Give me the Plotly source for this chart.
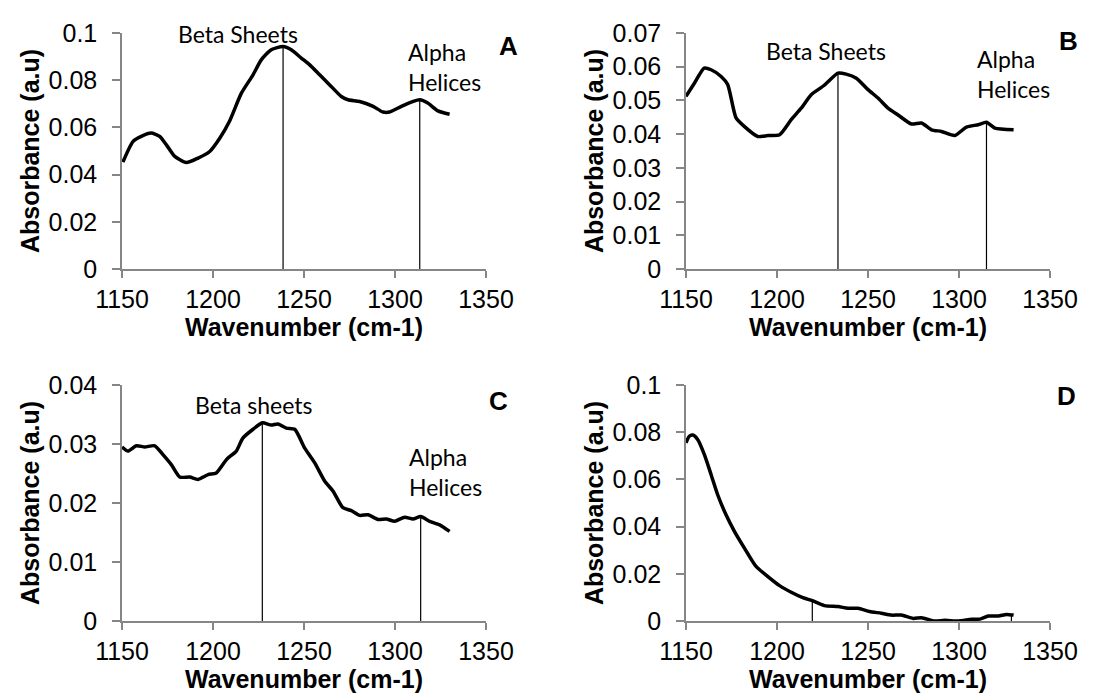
import plotly.graph_objects as go

# ---------------- data ----------------
wn_A = [1150.5, 1156, 1160.6, 1166, 1170.7, 1174.4, 1179, 1185.3, 1191.8, 1198.2, 1203.7, 1209, 1215.6,
        1222, 1226.6, 1232, 1238.5, 1243, 1248.5, 1253, 1258.6, 1264, 1270.5, 1274.2, 1280.6, 1288,
        1293.4, 1297, 1303.5, 1310, 1313.6, 1318, 1323.6, 1330]
abs_A = [0.0453, 0.054, 0.0562, 0.0576, 0.0562, 0.0526, 0.0477, 0.0451, 0.047, 0.0498, 0.0554, 0.0625,
         0.0745, 0.0823, 0.0887, 0.0929, 0.0943, 0.0929, 0.0894, 0.0866, 0.0823, 0.0781, 0.0731, 0.0717,
         0.071, 0.0689, 0.0665, 0.0665, 0.0689, 0.071, 0.0717, 0.0703, 0.067, 0.0656]

wn_B = [1150, 1154.6, 1160, 1163.8, 1169.3, 1172.9, 1177.5, 1182, 1189.4, 1195, 1201.4, 1207.8, 1213.3,
        1218.8, 1226, 1233.5, 1238, 1243.6, 1250, 1255.5, 1261, 1266.5, 1273.9, 1279.4, 1284.9, 1290.4,
        1297.7, 1304.1, 1310.6, 1315.1, 1319.7, 1330]
abs_B = [0.0512, 0.0551, 0.0596, 0.0591, 0.0571, 0.0547, 0.0448, 0.0423, 0.0393, 0.0396, 0.0398, 0.0443,
         0.0477, 0.0517, 0.0545, 0.0581, 0.0578, 0.0566, 0.0532, 0.0507, 0.0477, 0.0457, 0.043, 0.0433,
         0.0413, 0.0408, 0.0396, 0.0421, 0.0428, 0.0435, 0.0418, 0.0413]

wn_C = [1150, 1153.3, 1157.9, 1162.5, 1168, 1172.5, 1177.1, 1181.7, 1187.2, 1191.8, 1197.3, 1201.8,
        1207.5, 1212.8, 1216.4, 1222, 1227.1, 1232, 1235.7, 1240.3, 1244.9, 1250.4, 1255.9, 1261.4, 1266,
        1271.4, 1276, 1280.6, 1285.2, 1290.7, 1295.2, 1299.8, 1305.3, 1309.9, 1314.1, 1319, 1324.5, 1330]
abs_C = [0.0295, 0.0288, 0.0297, 0.0295, 0.0297, 0.0282, 0.0265, 0.0244, 0.0244, 0.024, 0.0248, 0.0251,
         0.0274, 0.0288, 0.031, 0.0325, 0.0336, 0.0332, 0.0334, 0.0327, 0.0325, 0.0293, 0.0268, 0.0237,
         0.022, 0.0192, 0.0187, 0.0179, 0.018, 0.0172, 0.0173, 0.0169, 0.0176, 0.0173, 0.0177, 0.0169,
         0.0163, 0.0152]

wn_D = [1150, 1151.8, 1153.7, 1156.4, 1160.1, 1163.8, 1167.4, 1172, 1176.6, 1182.1, 1188.5, 1195,
        1201.4, 1207.8, 1214.2, 1219.4, 1226.1, 1233.5, 1239, 1244.5, 1250.9, 1257.3, 1262.8, 1268.3,
        1274.8, 1279.4, 1286.7, 1292.2, 1299.5, 1306.9, 1311.5, 1316.1, 1321.6, 1326.1, 1330]
abs_D = [0.0755, 0.0783, 0.0788, 0.0769, 0.0705, 0.062, 0.0535, 0.045, 0.038, 0.0309, 0.0231, 0.0188,
         0.015, 0.0122, 0.0099, 0.0086, 0.0065, 0.0061, 0.0054, 0.0054, 0.004, 0.0033, 0.0025, 0.0025,
         0.0011, 0.0014, 0.0, 0.0003, 0.0, 0.0007, 0.0008, 0.0021, 0.0021, 0.0028, 0.0025]

# marker lines: position (cm-1) and height (a.u.)
mark_A_x = [1238.5, 1313.6]
mark_A_y = [0.0943, 0.0717]
mark_B_x = [1233.5, 1315.1]
mark_B_y = [0.0581, 0.0435]
mark_C_x = [1227.1, 1314.1]
mark_C_y = [0.0336, 0.0177]
mark_D_x = [1219.4, 1328.8]
mark_D_y = [0.0088, 0.0025]

y_max = {"A": 0.1, "B": 0.07, "C": 0.04, "D": 0.1}
y_dtick = {"A": 0.02, "B": 0.01, "C": 0.01, "D": 0.02}
x_title = "Wavenumber (cm-1)"
y_title = "Absorbance (a.u)"
beta_labels = {"A": "Beta Sheets", "B": "Beta Sheets", "C": "Beta sheets"}
alpha_label = "Alpha<br>Helices"

# ---------------- layout helpers ----------------
W, H = 1100, 693
def px(x):
    return x / W
def py(y):
    return 1 - y / H

panels = {
    "A": dict(xd=[114, 478], yd=[25, 261], ax="", data=(wn_A, abs_A), marks=(mark_A_x, mark_A_y)),
    "B": dict(xd=[678, 1042], yd=[25, 261], ax="2", data=(wn_B, abs_B), marks=(mark_B_x, mark_B_y)),
    "C": dict(xd=[114, 478], yd=[377, 613], ax="3", data=(wn_C, abs_C), marks=(mark_C_x, mark_C_y)),
    "D": dict(xd=[678, 1042], yd=[377, 613], ax="4", data=(wn_D, abs_D), marks=(mark_D_x, mark_D_y)),
}

GREY = "#868686"
TICKFONT = dict(family="Arial", size=25, color="black")
TITLEFONT = dict(family="Arial", size=25, color="black")
ANNFONT = dict(family="Lato", size=23, color="black")

fig = go.Figure()
layout = dict(width=W, height=H, margin=dict(l=0, r=0, t=0, b=0),
              paper_bgcolor="white", plot_bgcolor="white", showlegend=False,
              font=dict(family="Arial"))

for key, p in panels.items():
    ax = p["ax"]
    xa, ya = "x" + ax, "y" + ax
    mx, my = p["marks"]
    for xv, yv in zip(mx, my):
        fig.add_trace(go.Scatter(x=[xv, xv], y=[0, yv], mode="lines",
                                 line=dict(color="black", width=1.2),
                                 xaxis=xa, yaxis=ya, hoverinfo="skip"))
    wn, ab = p["data"]
    fig.add_trace(go.Scatter(x=wn, y=ab, mode="lines",
                             line=dict(color="black", width=3.5, shape="spline", smoothing=0.6),
                             xaxis=xa, yaxis=ya))
    layout["xaxis" + ax] = dict(
        domain=[px(p["xd"][0]), px(p["xd"][1])], anchor=ya, range=[1150, 1350],
        tick0=1150, dtick=50, showline=True, linecolor=GREY, linewidth=1.5,
        ticks="outside", tickcolor=GREY, ticklen=7, tickwidth=1.5, showgrid=False, zeroline=False,
        tickfont=TICKFONT, title=dict(text="<b>" + x_title + "</b>", font=TITLEFONT, standoff=0),
        automargin=False)
    layout["yaxis" + ax] = dict(
        domain=[py(p["yd"][1]), py(p["yd"][0])], anchor=xa, range=[0, y_max[key]],
        tick0=0, dtick=y_dtick[key], showline=True, linecolor=GREY, linewidth=1.5,
        ticks="outside", tickcolor=GREY, ticklen=8, tickwidth=1.5, showgrid=False, zeroline=False,
        ticklabelstandoff=10,
        tickfont=TICKFONT, title=dict(text="<b>" + y_title + "</b>", font=TITLEFONT, standoff=2),
        automargin=False)

ann = []
def add_text(text, x, y, font, xanchor="center", align="center"):
    ann.append(dict(text=text, x=px(x), y=py(y), xref="paper", yref="paper", showarrow=False,
                    xanchor=xanchor, yanchor="middle", align=align, font=font))

add_text(beta_labels["A"], 230, 26, ANNFONT)
add_text(alpha_label, 398, 59, ANNFONT, xanchor="left", align="left")
add_text(beta_labels["B"], 818, 43, ANNFONT)
add_text(alpha_label, 967, 66, ANNFONT, xanchor="left", align="left")
add_text(beta_labels["C"], 246, 397, ANNFONT)
add_text(alpha_label, 399, 464, ANNFONT, xanchor="left", align="left")

LETTERFONT = dict(family="Arial", size=26, color="black")
add_text("<b>A</b>", 500, 38, LETTERFONT)
add_text("<b>B</b>", 1060, 33, LETTERFONT)
add_text("<b>C</b>", 490, 393, LETTERFONT)
add_text("<b>D</b>", 1058, 388, LETTERFONT)

layout["annotations"] = ann
fig.update_layout(**layout)
fig.write_html("out.html")
